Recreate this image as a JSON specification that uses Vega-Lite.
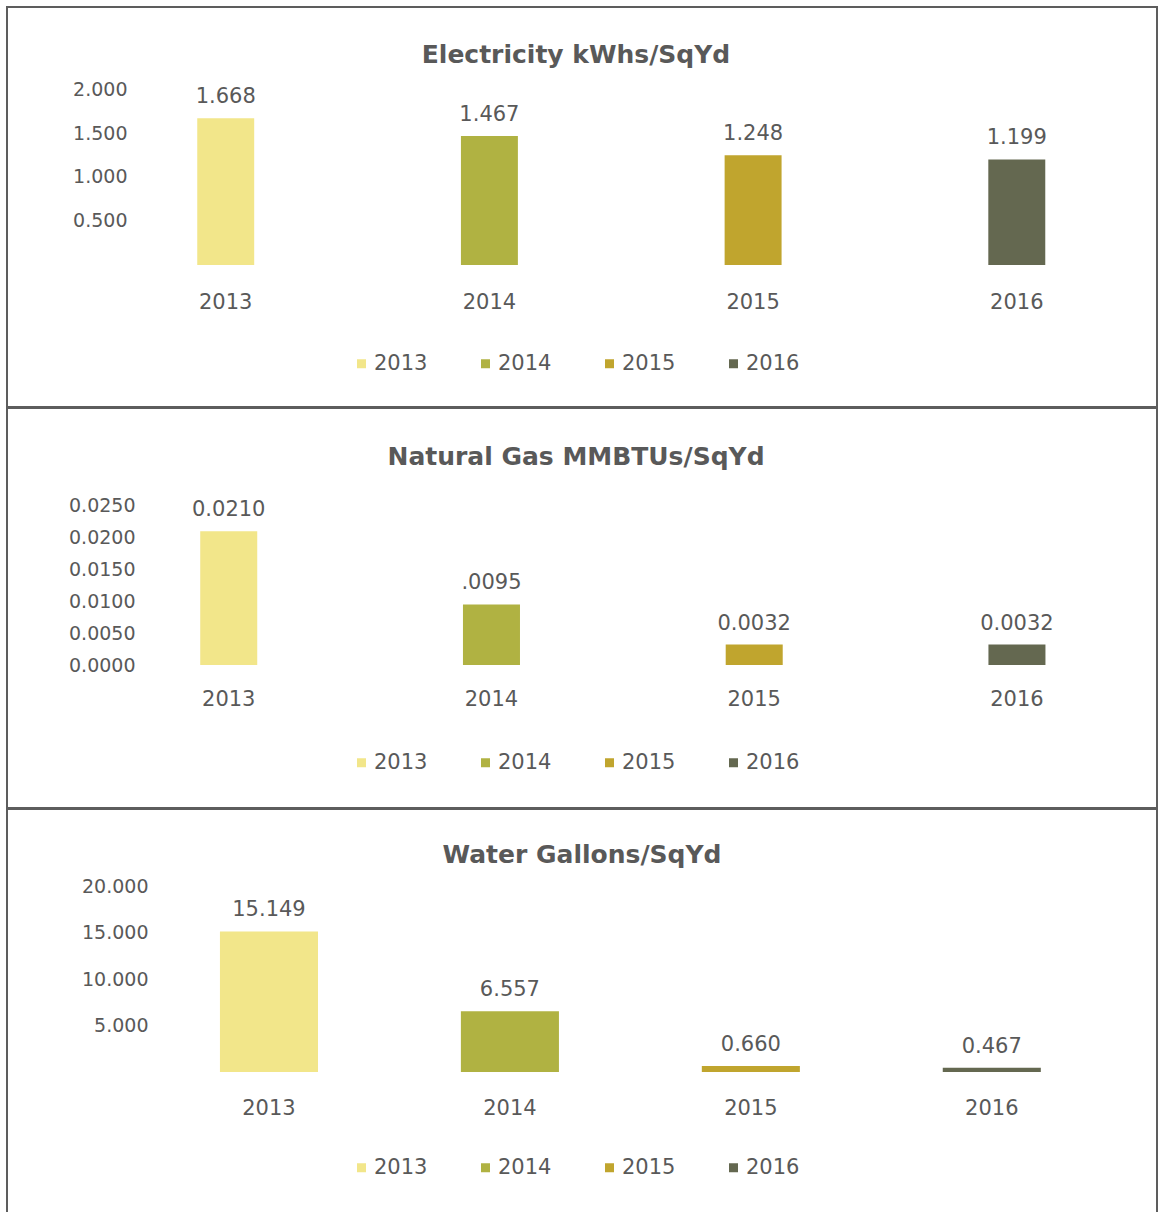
{
  "$schema": "https://vega.github.io/schema/vega-lite/v6.json",
  "padding": {"left": 6, "top": 6, "right": 0, "bottom": 0},
  "spacing": -2,
  "resolve": {"scale": {"x": "independent", "y": "independent", "color": "independent"}, "legend": {"color": "independent"}},
  "config": {
    "view": {"stroke": "#5d5d5d", "strokeWidth": 2},
    "font": "DejaVu Sans",
    "text": {"color": "#595959", "font": "DejaVu Sans", "fontSize": 21},
    "title": {"font": "DejaVu Sans", "fontSize": 25, "fontWeight": "bold", "color": "#595959", "anchor": "middle", "baseline": "middle"},
    "axis": {"labelColor": "#595959", "labelFont": "DejaVu Sans", "grid": false, "domain": false, "ticks": false, "title": null},
    "legend": {"orient": "none", "legendX": 344, "direction": "horizontal", "title": null, "symbolType": "square", "symbolSize": 81, "symbolStrokeWidth": 0, "labelFontSize": 21, "labelColor": "#595959", "labelFont": "DejaVu Sans", "columnPadding": 47, "labelOffset": 2}
  },
  "vconcat": [
    {
      "width": 1150,
      "height": 400,
      "title": {"text": "Electricity kWhs/SqYd", "offset": -61, "dx": -6},
      "data": {"values": [
        {"year": "2013", "value": 1.668, "label": "1.668"},
        {"year": "2014", "value": 1.467, "label": "1.467"},
        {"year": "2015", "value": 1.248, "label": "1.248"},
        {"year": "2016", "value": 1.199, "label": "1.199"}
      ]},
      "encoding": {
        "x": {"field": "year", "type": "nominal", "scale": {"paddingInner": 0.784, "paddingOuter": 0.5726, "align": 0.63},
              "axis": {"labelAngle": 0, "offset": -105, "labelPadding": 0, "labelBaseline": "middle", "labelFontSize": 21}},
        "y": {"field": "value", "type": "quantitative", "scale": {"domain": [-1.614, 2.932], "nice": false, "zero": false},
              "axis": {"values": [0.5, 1, 1.5, 2], "format": ".3f", "offset": -120, "labelPadding": 0, "labelFontSize": 19}}
      },
      "layer": [
        {"mark": {"type": "bar"},
         "encoding": {"color": {"field": "year", "type": "nominal",
           "scale": {"domain": ["2013", "2014", "2015", "2016"], "range": ["#F2E68A", "#B0B242", "#C0A52E", "#646850"]},
           "legend": {"legendY": 346}}}},
        {"mark": {"type": "text", "dy": -15, "baseline": "alphabetic"},
         "encoding": {"text": {"field": "label"}}}
      ]
    },
    {
      "width": 1150,
      "height": 400,
      "title": {"text": "Natural Gas MMBTUs/SqYd", "offset": -62, "dx": -6},
      "data": {"values": [
        {"year": "2013", "value": 0.021, "label": "0.0210"},
        {"year": "2014", "value": 0.0095, "label": ".0095"},
        {"year": "2015", "value": 0.0032, "label": "0.0032"},
        {"year": "2016", "value": 0.0032, "label": "0.0032"}
      ]},
      "encoding": {
        "x": {"field": "year", "type": "nominal", "scale": {"paddingInner": 0.783, "paddingOuter": 0.58, "align": 0.634},
              "axis": {"labelAngle": 0, "offset": -109, "labelPadding": 0, "labelBaseline": "middle", "labelFontSize": 21}},
        "y": {"field": "value", "type": "quantitative", "scale": {"domain": [-0.02245, 0.04035], "nice": false, "zero": false},
              "axis": {"values": [0, 0.005, 0.01, 0.015, 0.02, 0.025], "format": ".4f", "offset": -128, "labelPadding": 0, "labelFontSize": 19}}
      },
      "layer": [
        {"mark": {"type": "bar"},
         "encoding": {"color": {"field": "year", "type": "nominal",
           "scale": {"domain": ["2013", "2014", "2015", "2016"], "range": ["#F2E68A", "#B0B242", "#C0A52E", "#646850"]},
           "legend": {"legendY": 344}}}},
        {"mark": {"type": "text", "dy": -15, "baseline": "alphabetic"},
         "encoding": {"text": {"field": "label"}}}
      ]
    },
    {
      "width": 1150,
      "height": 410,
      "title": {"text": "Water Gallons/SqYd", "offset": -59},
      "data": {"values": [
        {"year": "2013", "value": 15.149, "label": "15.149"},
        {"year": "2014", "value": 6.557, "label": "6.557"},
        {"year": "2015", "value": 0.66, "label": "0.660"},
        {"year": "2016", "value": 0.467, "label": "0.467"}
      ]},
      "encoding": {
        "x": {"field": "year", "type": "nominal", "scale": {"paddingInner": 0.593, "paddingOuter": 0.683, "align": 0.647},
              "axis": {"labelAngle": 0, "offset": -111, "labelPadding": 0, "labelBaseline": "middle", "labelFontSize": 21}},
        "y": {"field": "value", "type": "quantitative", "scale": {"domain": [-15.84, 28.34], "nice": false, "zero": false},
              "axis": {"values": [5, 10, 15, 20], "format": ".3f", "offset": -141, "labelPadding": 0, "labelFontSize": 19}}
      },
      "layer": [
        {"mark": {"type": "bar"},
         "encoding": {"color": {"field": "year", "type": "nominal",
           "scale": {"domain": ["2013", "2014", "2015", "2016"], "range": ["#F2E68A", "#B0B242", "#C0A52E", "#646850"]},
           "legend": {"legendY": 348}}}},
        {"mark": {"type": "text", "dy": -15, "baseline": "alphabetic"},
         "encoding": {"text": {"field": "label"}}}
      ]
    }
  ]
}
